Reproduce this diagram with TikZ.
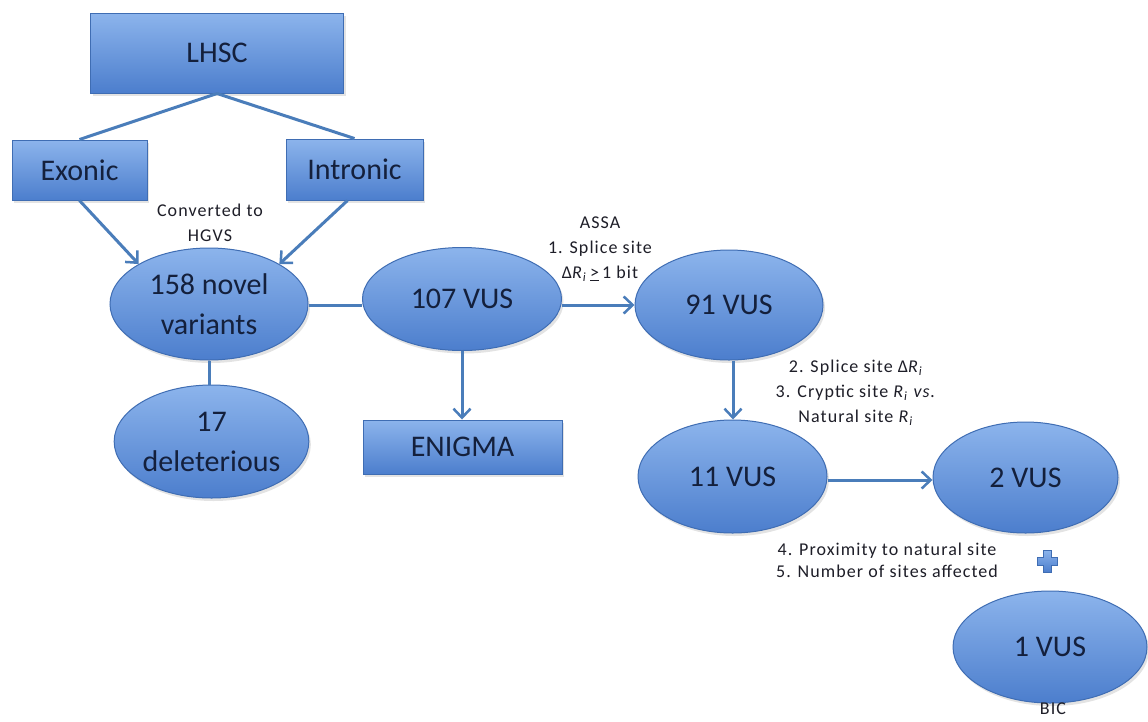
\documentclass[tikz,border=0pt]{standalone}
\usepackage{fontspec}
\setmainfont{Carlito}
\newfontfamily\notefont[LetterSpace=6]{Carlito}
\usetikzlibrary{shapes.geometric,arrows.meta,shadows}
\definecolor{navy}{HTML}{14203C}
\definecolor{notecol}{HTML}{1E1E28}
\definecolor{edgecol}{HTML}{4A7DBA}
\definecolor{boxtop}{HTML}{8CB4EC}
\definecolor{boxbot}{HTML}{4C7ECD}
\definecolor{bordcol}{HTML}{3F6DB3}
\begin{document}
\begin{tikzpicture}[x=1pt,y=-1pt,
  shapebase/.style={draw=bordcol, line width=1pt, top color=boxtop, bottom color=boxbot,
    text=navy, inner sep=0pt, align=center,
    drop shadow={opacity=0.22, shadow xshift=2pt, shadow yshift=-3pt}},
  bigtext/.style={font=\fontsize{30}{40}\selectfont},
  boxnode/.style={shapebase, rectangle, bigtext},
  oval/.style={shapebase, ellipse, bigtext},
  note/.style={text=notecol, align=center, font=\notefont\fontsize{18}{25}\selectfont, inner sep=0pt},
  conn/.style={draw=edgecol, line width=3pt},
  arr/.style={conn, -{Straight Barb[length=9pt,width=17pt,line width=2.5pt]}}]

\fill[white] (0,0) rectangle (1148,721);
\useasboundingbox (0,0) rectangle (1148,721);

% boxes
\node[boxnode, minimum width=253pt, minimum height=80pt] (lhsc) at (217,53) {LHSC};
\node[boxnode, minimum width=135pt, minimum height=60pt] (exo) at (79.5,170) {Exonic};
\node[boxnode, minimum width=137pt, minimum height=61pt] (intr) at (354.5,169.5) {Intronic};
\node[boxnode, minimum width=199pt, minimum height=54pt] (enig) at (462.5,447) {ENIGMA};

% ellipses
\node[oval, minimum width=198pt, minimum height=112pt] (nov) at (209,304) {158 novel\\variants};
\node[oval, minimum width=193pt, minimum height=113pt] (del) at (211.5,441.5) {17\\deleterious};
\node[oval, minimum width=199pt, minimum height=103pt] (v107) at (462,299) {107 VUS};
\node[oval, minimum width=188pt, minimum height=110pt] (v91) at (729,305) {91 VUS};
\node[oval, minimum width=189pt, minimum height=113pt] (v11) at (732.5,476.5) {11 VUS};
\node[oval, minimum width=185pt, minimum height=111pt] (v2) at (1025.5,477.5) {2 VUS};
\node[oval, minimum width=194pt, minimum height=112pt] (v1) at (1050,647) {1 VUS};

% helper coordinates
\coordinate (rowa) at (0,305);
\coordinate (rowb) at (0,480);
\coordinate (colc) at (733,0);

% connectors
\draw[conn] (lhsc.south) -- (exo.north);
\draw[conn] (lhsc.south) -- (intr.north);
\draw[arr] (exo.south) -- (nov.north west);
\draw[arr] ([xshift=-7pt]intr.south) -- (nov.north east);
\draw[conn] (nov.south) -- (nov.south |- del.north);
\draw[conn] (nov.east |- rowa) -- (v107.west |- rowa);
\draw[arr] (v107.south) -- (v107.south |- enig.north);
\draw[arr] (v107.east |- rowa) -- (v91.west |- rowa);
\draw[arr] (v91.south -| colc) -- (v11.north -| colc);
\draw[arr] (v11.east |- rowb) -- (v2.west |- rowb);

% plus sign
\path[draw=bordcol, line width=0.6pt, top color=boxtop, bottom color=boxbot]
  (1043.5,550) -- (1051.5,550) -- (1051.5,557) -- (1057.5,557) -- (1057.5,565)
  -- (1051.5,565) -- (1051.5,572) -- (1043.5,572) -- (1043.5,565) -- (1037.5,565)
  -- (1037.5,557) -- (1043.5,557) -- cycle;

% labels
\node[note] (conv) at (210,223) {Converted to\\HGVS};
\node[note] (assa) at (600,249) {ASSA\\1. Splice site\\Δ\textit{R}\textsubscript{\textit{i}}\,\underline{>}\,1 bit};
\node[note] (crit23) at (856,393) {2. Splice site Δ\textit{R}\textsubscript{\textit{i}}\\3. Cryptic site \textit{R}\textsubscript{\textit{i}} \textit{vs.}\\Natural site \textit{R}\textsubscript{\textit{i}}};
\node[note, font=\notefont\fontsize{18}{22}\selectfont] (crit45) at (887,560) {4. Proximity to natural site\\5. Number of sites affected};
\node[note] (bic) at (1053,709) {BIC};
\end{tikzpicture}
\end{document}
